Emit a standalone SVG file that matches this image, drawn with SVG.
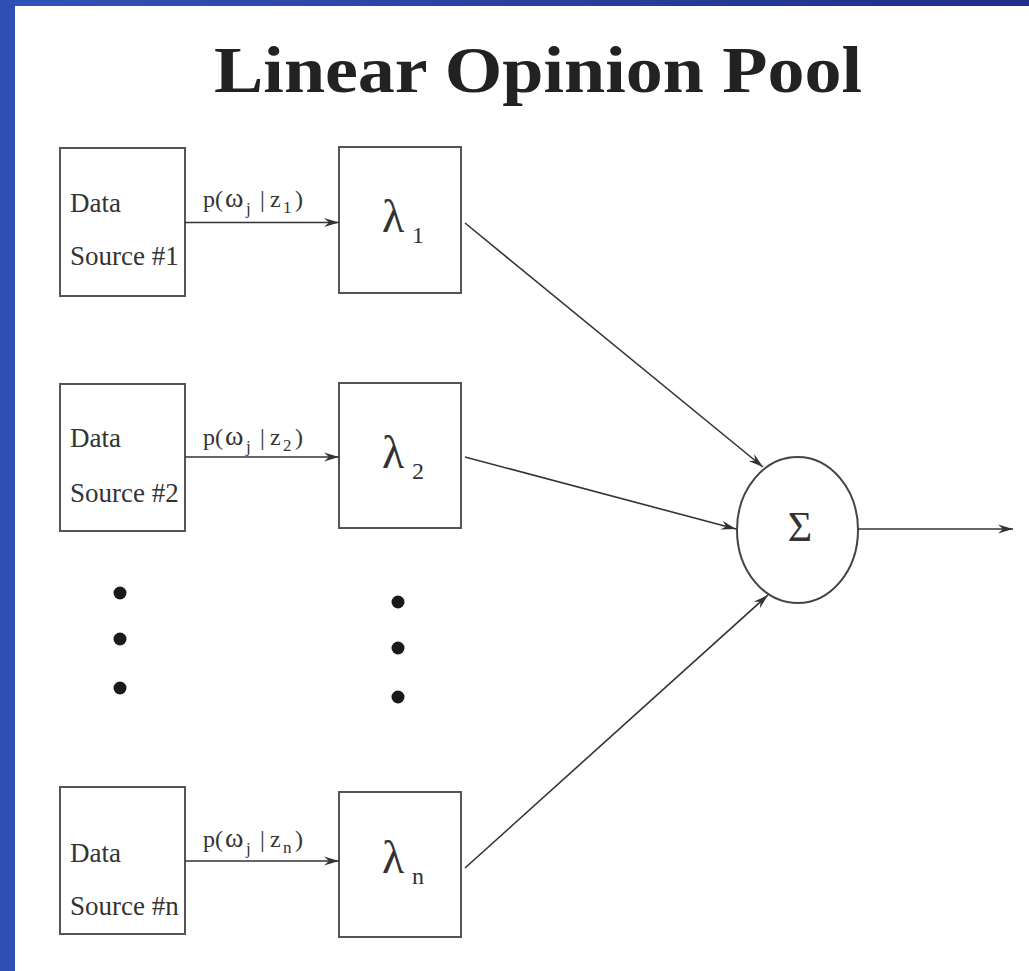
<svg xmlns="http://www.w3.org/2000/svg" width="1029" height="971" viewBox="0 0 1029 971">
<defs>
<linearGradient id="topg" x1="0" y1="0" x2="1" y2="0">
<stop offset="0" stop-color="#3153b9"/>
<stop offset="1" stop-color="#1f2e88"/>
</linearGradient>
<marker id="ah" markerWidth="16" markerHeight="10" refX="15" refY="5" orient="auto" markerUnits="userSpaceOnUse">
<path d="M0,0.5 L15,5 L0,9.5 L5,5 Z" fill="#333"/>
</marker>
<style>
.box{fill:#fff;stroke:#555;stroke-width:2}
.lbl{font-family:"Liberation Serif","Times New Roman",serif;font-size:27px;fill:#333}
.p{font-family:"Liberation Serif","Times New Roman",serif;font-size:24px;fill:#333}
.om{font-size:28px}
.sub{font-size:17px}
.lam{font-family:"Liberation Serif","Times New Roman",serif;font-size:46px;fill:#333}
.lsub{font-size:24px}
.conn{stroke:#333;stroke-width:1.6;fill:none;marker-end:url(#ah)}
.dot{fill:#1a1a1a}
</style>
</defs>
<rect x="0" y="0" width="1029" height="971" fill="#fff"/>
<rect x="0" y="0" width="1029" height="6" fill="url(#topg)"/>
<rect x="0" y="0" width="15" height="971" fill="#2f4fb6"/>
<g id="title">
<text x="538" y="92" text-anchor="middle" font-family="Liberation Serif,'Times New Roman',serif" font-weight="bold" font-size="66" fill="#222" textLength="648" lengthAdjust="spacingAndGlyphs">Linear Opinion Pool</text>
</g>
<g id="source1">
<rect class="box" x="60" y="148" width="125" height="148"/>
<text class="lbl" x="70" y="212">Data</text>
<text class="lbl" x="70" y="265">Source #1</text>
</g>
<g id="source2">
<rect class="box" x="60" y="384" width="125" height="147"/>
<text class="lbl" x="70" y="447">Data</text>
<text class="lbl" x="70" y="502">Source #2</text>
</g>
<g id="sourcen">
<rect class="box" x="60" y="787" width="125" height="147"/>
<text class="lbl" x="70" y="862">Data</text>
<text class="lbl" x="70" y="915">Source #n</text>
</g>
<g id="lambda1">
<rect class="box" x="339" y="147" width="122" height="146"/>
<text class="lam" x="382" y="232">λ<tspan class="lsub" x="412" y="243">1</tspan></text>
</g>
<g id="lambda2">
<rect class="box" x="339" y="383" width="122" height="145"/>
<text class="lam" x="382" y="468">λ<tspan class="lsub" x="412" y="479">2</tspan></text>
</g>
<g id="lambdan">
<rect class="box" x="339" y="792" width="122" height="145"/>
<text class="lam" x="382" y="873">λ<tspan class="lsub" x="412" y="884">n</tspan></text>
</g>
<g id="sum">
<ellipse cx="797.5" cy="530" rx="60.5" ry="73" fill="#fff" stroke="#444" stroke-width="2"/>
<text x="800" y="541" text-anchor="middle" font-family="Liberation Serif,'Times New Roman',serif" font-size="42" fill="#333">Σ</text>
</g>
<g id="dots">
<circle class="dot" cx="120" cy="593" r="6.5"/>
<circle class="dot" cx="120" cy="639" r="6.5"/>
<circle class="dot" cx="120" cy="688" r="6.5"/>
<circle class="dot" cx="398" cy="602" r="6.5"/>
<circle class="dot" cx="398" cy="648" r="6.5"/>
<circle class="dot" cx="398" cy="697" r="6.5"/>
</g>
<g id="connectors">
<line class="conn" x1="185" y1="222.5" x2="339" y2="222.5"/>
<line class="conn" x1="185" y1="457" x2="339" y2="457"/>
<line class="conn" x1="185" y1="861" x2="339" y2="861"/>
<line class="conn" x1="465" y1="223" x2="763" y2="467"/>
<line class="conn" x1="465" y1="457" x2="736" y2="529"/>
<line class="conn" x1="465" y1="868" x2="768" y2="595"/>
<line class="conn" x1="858" y1="529" x2="1013" y2="529"/>
</g>
<g id="labels">
<text class="p" y="207"><tspan x="203">p(</tspan><tspan class="om" x="225">ω</tspan><tspan class="sub" x="246" y="214">j</tspan><tspan x="260" y="207">|</tspan><tspan x="270">z</tspan><tspan class="sub" x="283" y="213">1</tspan><tspan x="295" y="207">)</tspan></text>
<text class="p" y="445"><tspan x="203">p(</tspan><tspan class="om" x="225">ω</tspan><tspan class="sub" x="246" y="452">j</tspan><tspan x="260" y="445">|</tspan><tspan x="270">z</tspan><tspan class="sub" x="283" y="451">2</tspan><tspan x="295" y="445">)</tspan></text>
<text class="p" y="847"><tspan x="203">p(</tspan><tspan class="om" x="225">ω</tspan><tspan class="sub" x="246" y="854">j</tspan><tspan x="260" y="847">|</tspan><tspan x="270">z</tspan><tspan class="sub" x="283" y="853">n</tspan><tspan x="295" y="847">)</tspan></text>
</g>
</svg>
